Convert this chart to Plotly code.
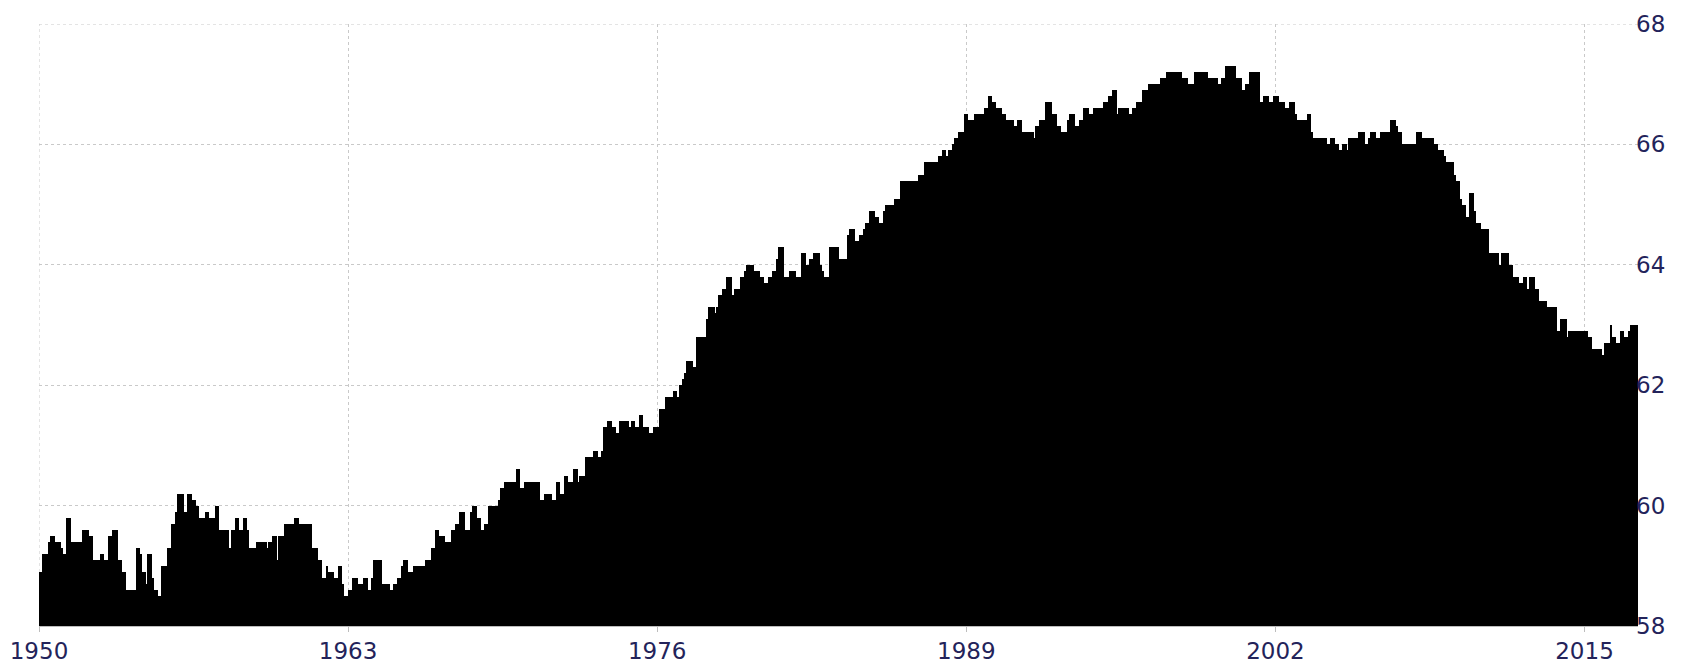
import plotly.graph_objects as go

# Monthly labour force participation rate (%), Jan 1950 - Mar 2017
start_year = 1950
rate = [
    58.9, 58.9, 59.2, 59.2, 59.2, 59.4, 59.5, 59.5, 59.4, 59.4, 59.4, 59.3,  # 1950
    59.2, 59.2, 59.8, 59.8, 59.4, 59.4, 59.4, 59.4, 59.4, 59.4, 59.6, 59.6,  # 1951
    59.6, 59.5, 59.5, 59.1, 59.1, 59.1, 59.1, 59.2, 59.2, 59.1, 59.1, 59.5,  # 1952
    59.5, 59.6, 59.6, 59.6, 59.1, 59.1, 58.9, 58.9, 58.6, 58.6, 58.6, 58.6,  # 1953
    58.6, 59.3, 59.3, 59.2, 58.9, 58.9, 58.7, 59.2, 59.2, 58.8, 58.6, 58.6,  # 1954
    58.5, 58.5, 59.0, 59.0, 59.0, 59.3, 59.3, 59.7, 59.7, 59.9, 60.2, 60.2,  # 1955
    60.2, 59.9, 59.9, 60.2, 60.2, 60.1, 60.1, 60.0, 60.0, 59.8, 59.8, 59.8,  # 1956
    59.9, 59.9, 59.8, 59.8, 59.8, 60.0, 60.0, 59.6, 59.6, 59.6, 59.6, 59.6,  # 1957
    59.3, 59.6, 59.6, 59.8, 59.8, 59.6, 59.6, 59.8, 59.8, 59.6, 59.3, 59.3,  # 1958
    59.3, 59.3, 59.4, 59.4, 59.4, 59.4, 59.4, 59.3, 59.4, 59.4, 59.5, 59.5,  # 1959
    59.1, 59.5, 59.5, 59.5, 59.7, 59.7, 59.7, 59.7, 59.7, 59.8, 59.8, 59.7,  # 1960
    59.7, 59.7, 59.7, 59.7, 59.7, 59.7, 59.3, 59.3, 59.3, 59.1, 59.1, 58.8,  # 1961
    58.8, 59.0, 58.9, 58.9, 58.9, 58.8, 58.8, 59.0, 59.0, 58.7, 58.5, 58.5,  # 1962
    58.6, 58.6, 58.8, 58.8, 58.8, 58.7, 58.7, 58.7, 58.8, 58.8, 58.6, 58.6,  # 1963
    58.8, 59.1, 59.1, 59.1, 59.1, 58.7, 58.7, 58.7, 58.7, 58.6, 58.6, 58.7,  # 1964
    58.7, 58.8, 58.8, 59.0, 59.1, 59.1, 58.9, 58.9, 58.9, 59.0, 59.0, 59.0,  # 1965
    59.0, 59.0, 59.0, 59.1, 59.1, 59.1, 59.3, 59.3, 59.6, 59.6, 59.5, 59.5,  # 1966
    59.5, 59.4, 59.4, 59.4, 59.6, 59.6, 59.7, 59.7, 59.9, 59.9, 59.9, 59.6,  # 1967
    59.6, 59.6, 59.9, 60.0, 60.0, 59.8, 59.8, 59.6, 59.6, 59.7, 59.7, 60.0,  # 1968
    60.0, 60.0, 60.0, 60.0, 60.1, 60.3, 60.3, 60.4, 60.4, 60.4, 60.4, 60.4,  # 1969
    60.4, 60.6, 60.6, 60.3, 60.3, 60.4, 60.4, 60.4, 60.4, 60.4, 60.4, 60.4,  # 1970
    60.4, 60.1, 60.1, 60.2, 60.2, 60.2, 60.2, 60.1, 60.1, 60.4, 60.4, 60.2,  # 1971
    60.2, 60.5, 60.5, 60.4, 60.4, 60.4, 60.6, 60.6, 60.4, 60.5, 60.5, 60.5,  # 1972
    60.8, 60.8, 60.8, 60.8, 60.9, 60.9, 60.8, 60.8, 60.9, 61.3, 61.3, 61.4,  # 1973
    61.4, 61.3, 61.3, 61.2, 61.2, 61.4, 61.4, 61.4, 61.4, 61.4, 61.3, 61.4,  # 1974
    61.4, 61.3, 61.3, 61.5, 61.5, 61.3, 61.3, 61.3, 61.2, 61.2, 61.3, 61.3,  # 1975
    61.3, 61.6, 61.6, 61.6, 61.8, 61.8, 61.8, 61.8, 61.9, 61.9, 61.8, 62.0,  # 1976
    62.0, 62.1, 62.2, 62.4, 62.4, 62.4, 62.3, 62.3, 62.8, 62.8, 62.8, 62.8,  # 1977
    62.8, 63.1, 63.3, 63.3, 63.3, 63.2, 63.3, 63.5, 63.5, 63.6, 63.6, 63.8,  # 1978
    63.8, 63.8, 63.5, 63.6, 63.6, 63.6, 63.8, 63.8, 63.9, 64.0, 64.0, 64.0,  # 1979
    64.0, 63.9, 63.9, 63.9, 63.8, 63.8, 63.7, 63.7, 63.8, 63.8, 63.9, 63.9,  # 1980
    64.1, 64.3, 64.3, 64.3, 63.8, 63.8, 63.8, 63.9, 63.9, 63.9, 63.8, 63.8,  # 1981
    63.8, 64.2, 64.2, 64.0, 64.0, 64.1, 64.1, 64.2, 64.2, 64.2, 64.0, 63.9,  # 1982
    63.8, 63.8, 63.8, 64.3, 64.3, 64.3, 64.3, 64.3, 64.1, 64.1, 64.1, 64.1,  # 1983
    64.5, 64.6, 64.6, 64.6, 64.4, 64.4, 64.5, 64.5, 64.6, 64.7, 64.7, 64.9,  # 1984
    64.9, 64.9, 64.8, 64.8, 64.7, 64.7, 64.9, 65.0, 65.0, 65.0, 65.0, 65.0,  # 1985
    65.1, 65.1, 65.1, 65.4, 65.4, 65.4, 65.4, 65.4, 65.4, 65.4, 65.4, 65.4,  # 1986
    65.5, 65.5, 65.5, 65.7, 65.7, 65.7, 65.7, 65.7, 65.7, 65.7, 65.8, 65.8,  # 1987
    65.9, 65.9, 65.8, 65.9, 65.9, 66.0, 66.1, 66.1, 66.2, 66.2, 66.2, 66.5,  # 1988
    66.5, 66.4, 66.4, 66.4, 66.5, 66.5, 66.5, 66.5, 66.5, 66.6, 66.6, 66.8,  # 1989
    66.8, 66.7, 66.7, 66.6, 66.6, 66.6, 66.5, 66.5, 66.4, 66.4, 66.4, 66.4,  # 1990
    66.3, 66.3, 66.4, 66.4, 66.2, 66.2, 66.2, 66.2, 66.2, 66.2, 66.1, 66.3,  # 1991
    66.3, 66.4, 66.4, 66.4, 66.7, 66.7, 66.7, 66.5, 66.5, 66.5, 66.3, 66.3,  # 1992
    66.2, 66.2, 66.2, 66.4, 66.5, 66.5, 66.5, 66.3, 66.3, 66.4, 66.4, 66.6,  # 1993
    66.6, 66.6, 66.5, 66.5, 66.6, 66.6, 66.6, 66.6, 66.6, 66.7, 66.7, 66.7,  # 1994
    66.8, 66.8, 66.9, 66.9, 66.5, 66.6, 66.6, 66.6, 66.6, 66.6, 66.5, 66.5,  # 1995
    66.6, 66.6, 66.7, 66.7, 66.7, 66.9, 66.9, 66.9, 67.0, 67.0, 67.0, 67.0,  # 1996
    67.0, 67.0, 67.1, 67.1, 67.1, 67.2, 67.2, 67.2, 67.2, 67.2, 67.2, 67.2,  # 1997
    67.2, 67.1, 67.1, 67.1, 67.0, 67.0, 67.0, 67.2, 67.2, 67.2, 67.2, 67.2,  # 1998
    67.2, 67.2, 67.1, 67.1, 67.1, 67.1, 67.1, 67.0, 67.0, 67.1, 67.1, 67.3,  # 1999
    67.3, 67.3, 67.3, 67.3, 67.1, 67.1, 67.1, 66.9, 66.9, 67.0, 67.0, 67.2,  # 2000
    67.2, 67.2, 67.2, 67.2, 66.7, 66.7, 66.8, 66.8, 66.8, 66.7, 66.7, 66.8,  # 2001
    66.8, 66.8, 66.7, 66.7, 66.7, 66.6, 66.6, 66.7, 66.7, 66.7, 66.5, 66.4,  # 2002
    66.4, 66.4, 66.4, 66.4, 66.5, 66.5, 66.2, 66.1, 66.1, 66.1, 66.1, 66.1,  # 2003
    66.1, 66.1, 66.0, 66.0, 66.1, 66.1, 66.0, 66.0, 65.9, 65.9, 66.0, 66.0,  # 2004
    65.9, 66.1, 66.1, 66.1, 66.1, 66.1, 66.2, 66.2, 66.2, 66.0, 66.0, 66.1,  # 2005
    66.2, 66.2, 66.2, 66.1, 66.1, 66.2, 66.2, 66.2, 66.2, 66.2, 66.4, 66.4,  # 2006
    66.4, 66.3, 66.2, 66.2, 66.0, 66.0, 66.0, 66.0, 66.0, 66.0, 66.0, 66.2,  # 2007
    66.2, 66.2, 66.1, 66.1, 66.1, 66.1, 66.1, 66.1, 66.0, 66.0, 65.9, 65.9,  # 2008
    65.9, 65.8, 65.7, 65.7, 65.7, 65.7, 65.5, 65.4, 65.4, 65.1, 65.0, 65.0,  # 2009
    64.8, 64.8, 65.2, 65.2, 64.9, 64.7, 64.7, 64.7, 64.6, 64.6, 64.6, 64.6,  # 2010
    64.2, 64.2, 64.2, 64.2, 64.2, 64.0, 64.2, 64.2, 64.2, 64.2, 64.0, 64.0,  # 2011
    63.8, 63.8, 63.8, 63.7, 63.7, 63.8, 63.8, 63.6, 63.8, 63.8, 63.8, 63.6,  # 2012
    63.6, 63.4, 63.4, 63.4, 63.4, 63.3, 63.3, 63.3, 63.3, 63.3, 62.9, 62.9,  # 2013
    63.1, 63.1, 63.1, 62.8, 62.9, 62.9, 62.9, 62.9, 62.9, 62.9, 62.9, 62.9,  # 2014
    62.9, 62.9, 62.8, 62.8, 62.6, 62.6, 62.6, 62.6, 62.6, 62.5, 62.7, 62.7,  # 2015
    62.7, 63.0, 62.8, 62.8, 62.7, 62.7, 62.9, 62.9, 62.8, 62.8, 62.9, 63.0,  # 2016
    63.0, 63.0, 63.0,                                                        # 2017
]
x_tick_years = [1950, 1963, 1976, 1989, 2002, 2015]
y_ticks = [58, 60, 62, 64, 66, 68]

# month positions on a fractional-year scale
months = [start_year + i / 12 for i in range(len(rate))]
x_end = start_year + len(rate) / 12

label_font = dict(family="Tahoma, DejaVu Sans, sans-serif", size=23, color="#23235a")
grid_col = "#c9c9c9"

fig = go.Figure(
    go.Bar(
        x=months,
        y=rate,
        width=1 / 12,
        offset=0,
        marker=dict(color="#000000", line=dict(width=0)),
        hoverinfo="x+y",
    )
)

# plotly drops grid lines lying exactly on the plot edges; redraw those two
edge_grid = [
    dict(type="line", xref="x", yref="paper", x0=x_tick_years[0], x1=x_tick_years[0],
         y0=0, y1=1, layer="below", line=dict(color=grid_col, width=1, dash="dot")),
    dict(type="line", xref="paper", yref="y", x0=0, x1=1, y0=y_ticks[-1], y1=y_ticks[-1],
         layer="below", line=dict(color=grid_col, width=1, dash="dot")),
]

fig.update_layout(
    width=1682,
    height=668,
    margin=dict(l=39, r=44, t=24, b=42, autoexpand=False),
    paper_bgcolor="white",
    plot_bgcolor="white",
    bargap=0,
    showlegend=False,
    shapes=edge_grid,
    xaxis=dict(
        range=[start_year, x_end],
        tickvals=x_tick_years,
        ticktext=[str(y) for y in x_tick_years],
        showgrid=True,
        gridcolor=grid_col,
        griddash="dot",
        gridwidth=1,
        zeroline=False,
        showline=True,
        linecolor="#bdbdbd",
        linewidth=1,
        ticks="outside",
        ticklen=5,
        tickcolor="#bdbdbd",
        ticklabelstandoff=-1,
        tickfont=label_font,
        automargin=False,
    ),
    yaxis=dict(
        side="right",
        range=[58, 68],
        tickvals=y_ticks,
        showgrid=True,
        gridcolor=grid_col,
        griddash="dot",
        gridwidth=1,
        zeroline=False,
        showline=False,
        ticks="",
        ticklabelstandoff=-3,
        tickfont=label_font,
        automargin=False,
    ),
)

fig.write_html(
    "out.html",
    config={"displayModeBar": False},
    post_script="document.body.style.margin='0px';document.body.style.overflow='hidden';",
)
